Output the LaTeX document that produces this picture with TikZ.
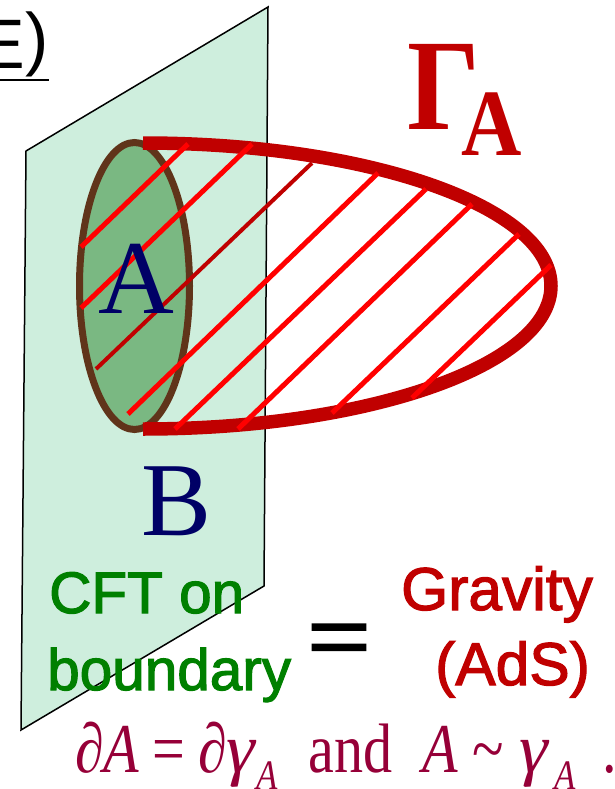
\documentclass[tikz,border=0pt]{standalone}
\usepackage{fontspec}
\setmainfont{Liberation Serif}
\setsansfont{Liberation Sans}
\newfontfamily\heavysans[FakeBold=2]{Liberation Sans}
\newcommand{\subA}{\raisebox{-17pt}{\fontsize{42}{42}\selectfont\textit{A}}}
\newcommand{\wideGam}{\scalebox{1.25}[1]{\textit{γ}}}

\begin{document}
\begin{tikzpicture}[
  x = 1pt, y = -1pt,
  plane/.style   = {draw=black, fill=plateGreen, line width=1.5pt, line join=miter},
  region/.style  = {draw=regionBrown, fill=regionGreen, line width=7pt},
  surface/.style = {draw=surfRed, line width=13.5pt},
  hatch/.style   = {draw=red, line width=5pt},
  hatchD/.style  = {hatch, draw=surfRed, line width=4pt},
  big/.style     = {inner sep=0pt, anchor=base, font=\fontsize{105}{105}\selectfont, text=capNavy},
  label/.style   = {inner sep=0pt, anchor=base west, font=\heavysans\fontsize{58.5}{59}\selectfont},
  cft/.style     = {label, text=cftGreen},
  grav/.style    = {label, font=\heavysans\fontsize{60.5}{61}\selectfont, text=surfRed}
]
\definecolor{plateGreen}{RGB}{206,238,221}
\definecolor{regionGreen}{RGB}{122,184,130}
\definecolor{regionBrown}{RGB}{96,52,26}
\definecolor{surfRed}{RGB}{192,0,0}
\definecolor{capNavy}{RGB}{0,0,102}
\definecolor{cftGreen}{RGB}{0,128,0}
\definecolor{relMaroon}{RGB}{150,0,56}

\useasboundingbox (0,0) rectangle (614,789);

\draw[plane] (268,7) -- (26,151) -- (21,730) -- (264,586) -- cycle;
\draw[region] (134.5,286) ellipse [x radius=55, y radius=143.5];
\draw[surface] (143,143) arc [start angle=-90, end angle=90, x radius=408, y radius=143];

\draw[hatch]  (81,247)  -- (188,144);
\draw[hatch]  (81,308)  -- (252,144);
\draw[hatchD] (96,369)  -- (312,163);
\draw[hatch]  (128,414) -- (378,173);
\draw[hatch]  (175,429) -- (426,189);
\draw[hatch]  (238,429) -- (472,204);
\draw[hatch]  (332,413) -- (519,234);
\draw[hatch]  (412,398) -- (551,265);

\node[big] (labelA) at (136,313) {A};
\node[big] (labelB) at (177,535) {B};

\node[inner sep=0pt, anchor=base west, text=surfRed, xscale=0.88, transform shape] (gammaA) at (407,129)
  {\fontsize{130}{130}\selectfont\textbf{Γ}\hspace{-21pt}\raisebox{-26pt}{\fontsize{95}{95}\selectfont\textbf{A}}};

\node[inner sep=0pt, anchor=base east] (title) at (49,69)
  {\sffamily\fontsize{70}{70}\selectfont E\raisebox{6pt}{)}};
\draw[line width=2pt] (0,80) -- (49,80);

\node[cft] (cftOn) at (49,613) {CFT on};
\node[cft] (bdry)  at (47,690) {boundary};
\node[inner sep=0pt, anchor=base, yscale=0.75, transform shape,
      font=\heavysans\fontsize{108}{108}\selectfont] (equal) at (339,664) {=};
\node[grav] (grav) at (401,610) {Gravity};
\node[grav] (ads)  at (435,685) {(AdS)};

\node[inner sep=0pt, anchor=base west, text=relMaroon, xscale=0.83, transform shape,
      font=\fontsize{70}{70}\selectfont] (rel) at (75,772)
  {\textit{∂A}\hspace{16pt}=\hspace{16pt}\textit{∂}\hspace{-1pt}\wideGam\subA\hspace{36pt}and\hspace{36pt}\textit{A}\hspace{18pt}\textasciitilde\hspace{18pt}\wideGam\hspace{6pt}\subA\hspace{32pt}.};
\end{tikzpicture}
\end{document}
